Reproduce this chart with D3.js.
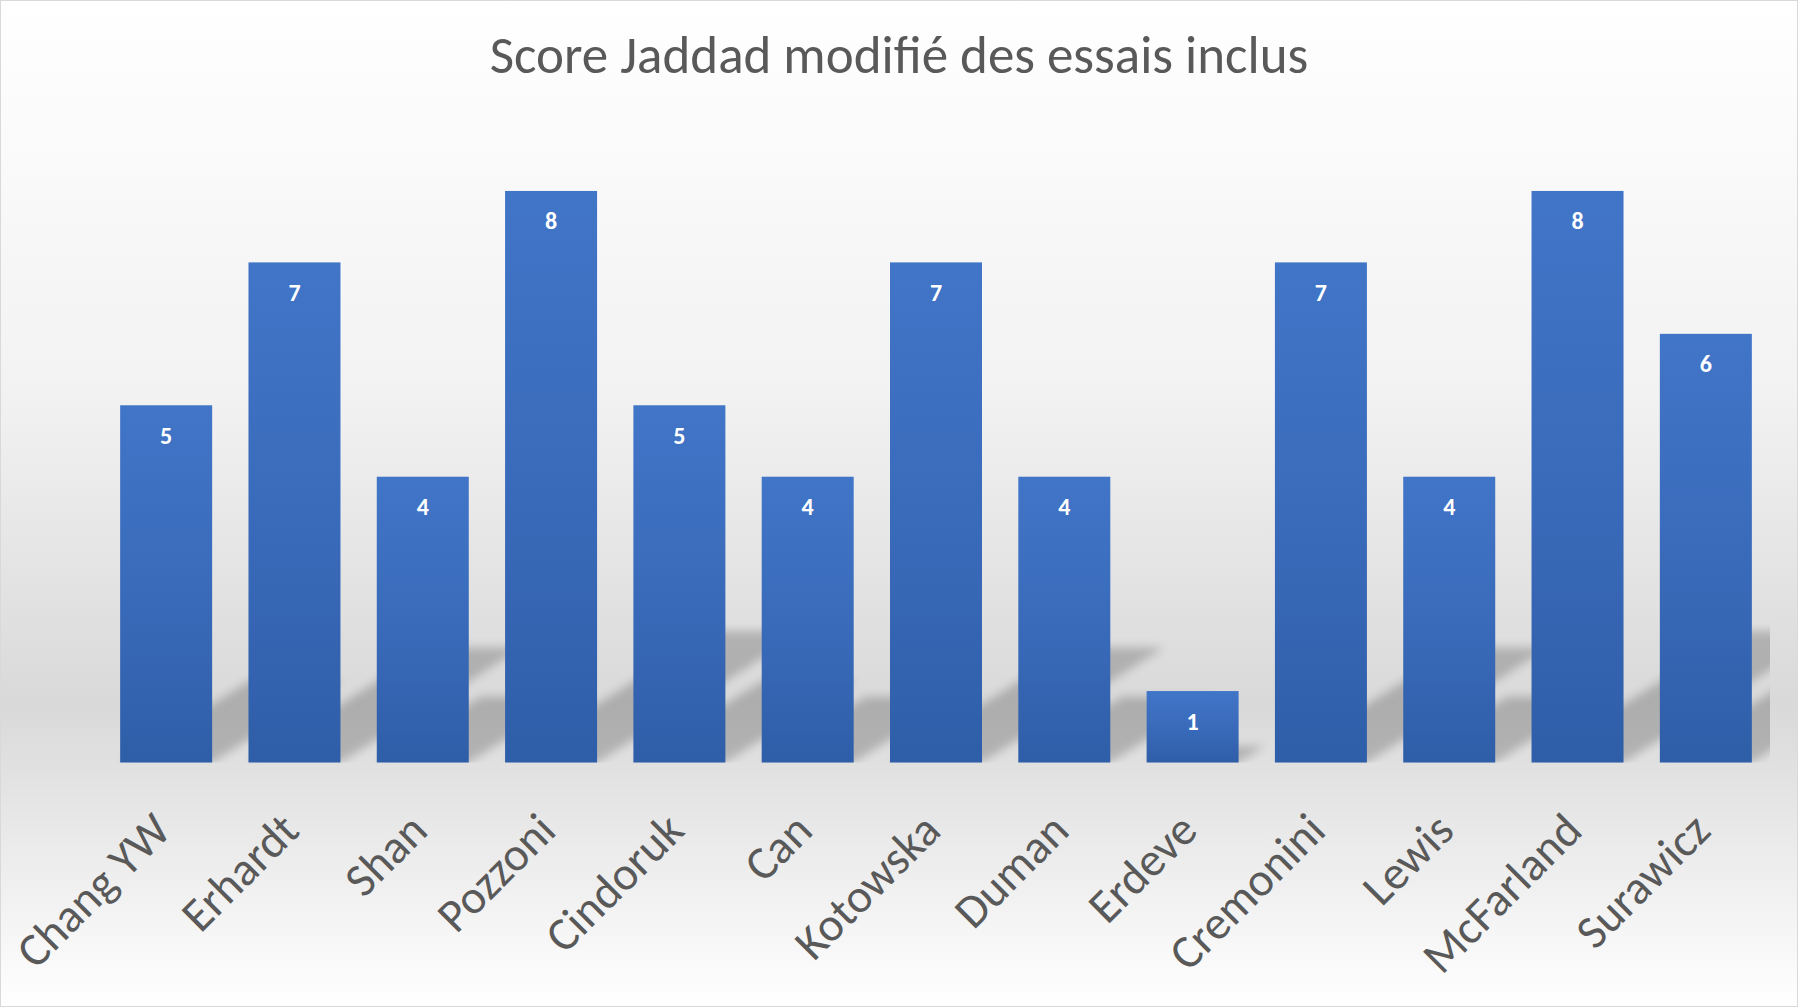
<!DOCTYPE html>
<html>
<head>
<meta charset="utf-8">
<script src="https://cdn.jsdelivr.net/npm/d3@7"></script>
<style>
  html, body { margin: 0; padding: 0; background: #fff; }
  svg { display: block; }
  .title { font-family: Calibri, Carlito, Lato, sans-serif; font-size: 53px; fill: #595959; }
  .cat { font-family: Calibri, Carlito, Lato, sans-serif; font-size: 47px; fill: #595959; }
  .val { font-family: Calibri, Carlito, Lato, sans-serif; font-size: 24px; font-weight: bold; fill: #fff; }
</style>
</head>
<body>
<div id="chart"></div>
<script>
var categories = ["Chang YW", "Erhardt", "Shan", "Pozzoni", "Cindoruk", "Can", "Kotowska",
                  "Duman", "Erdeve", "Cremonini", "Lewis", "McFarland", "Surawicz"];
var scores = [5, 7, 4, 8, 5, 4, 7, 4, 1, 7, 4, 8, 6];
var yMax = 9;
var title = "Score Jaddad modifié des essais inclus";

var width = 1798, height = 1007;
var plot = {left: 102, right: 1770, top: 119.5, bottom: 762.5};

var svg = d3.select("#chart")
  .append("svg")
    .attr("width", width)
    .attr("height", height);

var defs = svg.append("defs");

// chart area background: white -> grey -> white
var bg = defs.append("linearGradient")
    .attr("id", "bg")
    .attr("x1", 0).attr("y1", 0).attr("x2", 0).attr("y2", 1);
[[0, "#ffffff"], [0.39, "#f2f2f2"], [0.70, "#d9d9d9"], [1, "#ffffff"]].forEach(function(s) {
  bg.append("stop").attr("offset", s[0]).attr("stop-color", s[1]);
});

// bar fill, per bar
var barGrad = defs.append("linearGradient")
    .attr("id", "bar")
    .attr("x1", 0).attr("y1", 0).attr("x2", 0).attr("y2", 1);
[[0, "#4175c7"], [0.5, "#3a6bbb"], [1, "#2f5ea8"]].forEach(function(s) {
  barGrad.append("stop").attr("offset", s[0]).attr("stop-color", s[1]);
});

defs.append("clipPath")
    .attr("id", "plotclip")
  .append("rect")
    .attr("x", plot.left)
    .attr("y", plot.top)
    .attr("width", plot.right - plot.left)
    .attr("height", plot.bottom - plot.top);

defs.append("filter")
    .attr("id", "blur")
    .attr("x", "-10%").attr("y", "-10%").attr("width", "120%").attr("height", "120%")
  .append("feGaussianBlur")
    .attr("stdDeviation", 5);

svg.append("rect")
    .attr("x", 0.5).attr("y", 0.5)
    .attr("width", width - 1).attr("height", height - 1)
    .attr("fill", "url(#bg)")
    .attr("stroke", "#d9d9d9")
    .attr("stroke-width", 1);

var x = d3.scaleBand()
    .domain(categories)
    .range([plot.left, plot.right])
    .paddingInner(0.283)
    .paddingOuter(0.1415);

var y = d3.scaleLinear()
    .domain([0, yMax])
    .range([plot.bottom, plot.top]);

// perspective shadow (diagonal upper right): squashed to 23% and skewed right
var sy = 0.23, kx = Math.tan(20 * Math.PI / 180);
var shadowPath = function(d, i) {
  var x0 = x(categories[i]), x1 = x0 + x.bandwidth();
  var h = y(0) - y(d);
  var top = y(0) - sy * h, shift = kx * h;
  return "M" + x0 + "," + y(0) + "L" + x1 + "," + y(0) +
         "L" + (x1 + shift) + "," + top + "L" + (x0 + shift) + "," + top + "Z";
};

svg.append("g")
    .attr("clip-path", "url(#plotclip)")
  .append("g")
    .attr("opacity", 0.2)
    .attr("filter", "url(#blur)")
  .selectAll("path")
  .data(scores)
  .enter().append("path")
    .attr("d", shadowPath)
    .attr("fill", "#000");

svg.append("g")
  .selectAll("rect")
  .data(scores)
  .enter().append("rect")
    .attr("x", function(d, i) { return x(categories[i]); })
    .attr("y", function(d) { return y(d); })
    .attr("width", x.bandwidth())
    .attr("height", function(d) { return y(0) - y(d); })
    .attr("fill", "url(#bar)");

svg.append("g")
  .selectAll("text")
  .data(scores)
  .enter().append("text")
    .attr("class", "val")
    .attr("x", function(d, i) { return x(categories[i]) + x.bandwidth() / 2; })
    .attr("y", function(d) { return y(d) + 38.5; })
    .attr("text-anchor", "middle")
    .text(function(d) { return d; });

svg.append("g")
  .selectAll("text")
  .data(categories)
  .enter().append("text")
    .attr("class", "cat")
    .attr("text-anchor", "end")
    .attr("transform", function(d) {
      return "translate(" + (x(d) + x.bandwidth() / 2 + 7) + "," + 833 + ") rotate(-45)";
    })
    .text(function(d) { return d; });

svg.append("text")
    .attr("class", "title")
    .attr("x", width / 2)
    .attr("y", 73)
    .attr("text-anchor", "middle")
    .text(title);
</script>
</body>
</html>
